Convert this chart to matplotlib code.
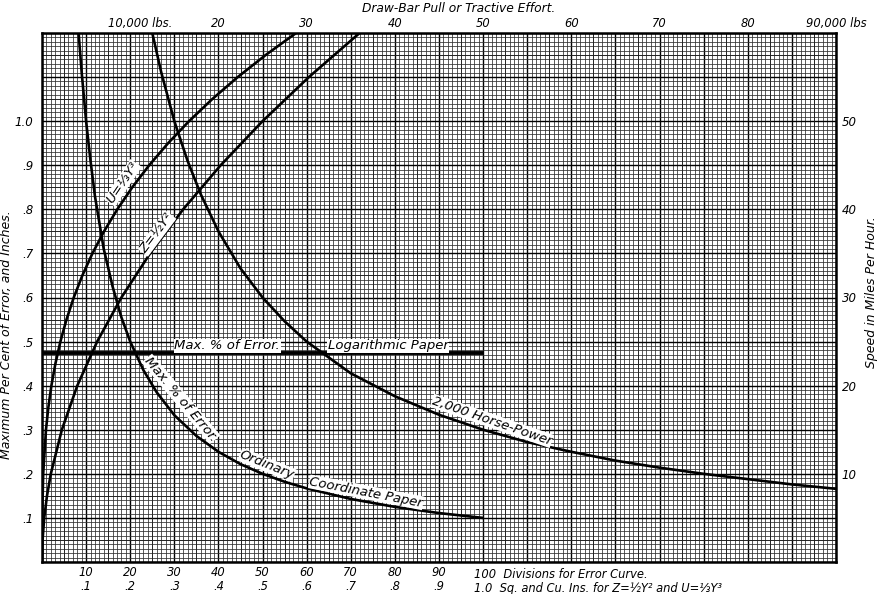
import matplotlib
matplotlib.use("Agg")
import matplotlib.pyplot as plt
from matplotlib.ticker import MultipleLocator, FixedLocator
import matplotlib.transforms as mtransforms

# ---- data -------------------------------------------------------------
# Max. per cent of error on ordinary coordinate paper vs. number of divisions
err_div = [8.3, 9, 10, 11, 12, 13, 14, 16, 18, 20, 23, 26, 30, 35, 40,
           45, 50, 55, 60, 70, 80, 90, 100]
err_pct = [1.20, 1.11, 1.00, 0.91, 0.83, 0.77, 0.71, 0.625, 0.555, 0.50,
           0.435, 0.385, 0.333, 0.286, 0.25, 0.222, 0.20, 0.182, 0.167,
           0.143, 0.125, 0.111, 0.10]

# Max. per cent of error on logarithmic paper
log_div = [0, 100]
log_pct = [0.475, 0.475]

# Z = 1/2 Y^2  (Z in sq. ins., Y in inches)
z_y = [0.0, 0.05, 0.1, 0.15, 0.2, 0.3, 0.4, 0.5, 0.6, 0.7, 0.8, 0.9,
       1.0, 1.1, 1.2]
z_sq = [0.0, 0.00125, 0.005, 0.0113, 0.02, 0.045, 0.08, 0.125, 0.18,
        0.245, 0.32, 0.405, 0.50, 0.605, 0.72]

# U = 1/3 Y^3  (U in cu. ins., Y in inches)
u_y = [0.0, 0.1, 0.2, 0.3, 0.35, 0.4, 0.45, 0.5, 0.55, 0.6, 0.65, 0.7,
       0.75, 0.8, 0.85, 0.9, 0.95, 1.0, 1.05, 1.1, 1.15, 1.2]
u_cu = [0.0, 0.0003, 0.0027, 0.009, 0.0143, 0.0213, 0.0304, 0.0417,
        0.0555, 0.072, 0.0915, 0.1143, 0.1406, 0.1707, 0.2047, 0.243,
        0.2858, 0.3333, 0.3859, 0.4437, 0.507, 0.576]

# 2,000 horse-power: speed (m.p.h.) vs. draw-bar pull (thousand lbs.)
hp_pull = [12.5, 13.5, 15, 16.5, 18, 20, 22.5, 25, 27.5, 30, 35, 40, 45,
           50, 55, 60, 65, 70, 75, 80, 85, 90]
hp_speed = [60.0, 55.6, 50.0, 45.5, 41.7, 37.5, 33.3, 30.0, 27.3, 25.0,
            21.4, 18.8, 16.7, 15.0, 13.6, 12.5, 11.5, 10.7, 10.0, 9.4,
            8.8, 8.3]

# axis tick labels
bottom_ticks = [10, 20, 30, 40, 50, 60, 70, 80, 90]
bottom_labels = ["10\n.1", "20\n.2", "30\n.3", "40\n.4", "50\n.5",
                 "60\n.6", "70\n.7", "80\n.8", "90\n.9"]
left_ticks = [0.1, 0.2, 0.3, 0.4, 0.5, 0.6, 0.7, 0.8, 0.9, 1.0]
left_labels = [".1", ".2", ".3", ".4", ".5", ".6", ".7", ".8", ".9", "1.0"]
top_ticks = [10, 20, 30, 40, 50, 60, 70, 80, 90]
top_labels = ["10,000 lbs.", "20", "30", "40", "50", "60", "70", "80",
              "90,000 lbs"]
right_ticks = [10, 20, 30, 40, 50]
right_labels = ["10", "20", "30", "40", "50"]

# ---- figure -----------------------------------------------------------
FONT = dict(family="DejaVu Sans", style="italic")
W, H = 881, 594
fig = plt.figure(figsize=(W / 100, H / 100), dpi=100)
rect = [42 / W, 32 / H, 794 / W, 529 / H]

ax = fig.add_axes(rect)
ax.set_xlim(0, 180)
ax.set_ylim(0, 1.2)

# graph-paper ruling
ax.xaxis.set_minor_locator(MultipleLocator(1))
ax.yaxis.set_minor_locator(MultipleLocator(0.01))
ax.grid(which="minor", color="#2e2e2e", lw=0.55)
ax.grid(which="major", color="black", lw=1.0)
for v in range(5, 180, 10):
    ax.axvline(v, color="#1e1e1e", lw=0.6, zorder=0.6)
for k in range(12):
    ax.axhline(k * 0.1 + 0.05, color="#1e1e1e", lw=0.6, zorder=0.6)
ax.set_axisbelow(True)
ax.tick_params(which="both", length=0)

# full ruling on every tenth line, labels only on some of them
ax.xaxis.set_major_locator(FixedLocator(list(range(0, 181, 10))))
ax.set_xticklabels([""] + bottom_labels + [""] * 9, fontsize=8.3,
                   linespacing=1.05, **FONT)
ax.yaxis.set_major_locator(FixedLocator([k / 10 for k in range(13)]))
ax.set_yticklabels([""] + left_labels + ["", ""], fontsize=8.5, **FONT)
ax.tick_params(axis="x", pad=3)
ax.tick_params(axis="y", pad=6)

for s in ax.spines.values():
    s.set_linewidth(1.8)
    s.set_color("black")

ax.set_ylabel("Maximum Per Cent of Error, and Inches.", fontsize=9,
              **FONT)
ax.yaxis.set_label_coords(-0.036, 0.43)

# curves in division / per-cent units
ax.plot(err_div, err_pct, color="black", lw=1.9, zorder=4,
        solid_capstyle="butt")
ax.plot(log_div, log_pct, color="black", lw=2.8, zorder=4,
        solid_capstyle="butt")
ax.plot([100 * v for v in z_sq], z_y, color="black", lw=1.9, zorder=4)
ax.plot([100 * v for v in u_cu], u_y, color="black", lw=1.9, zorder=4)

# pull / speed scale on the same plotting area
ax2 = fig.add_axes(rect, frameon=False)
ax2.set_xlim(0, 90)
ax2.set_ylim(0, 60)
ax2.patch.set_visible(False)
ax2.plot(hp_pull, hp_speed, color="black", lw=1.9, zorder=4)
ax2.xaxis.tick_top()
ax2.yaxis.tick_right()
ax2.set_xticks(top_ticks)
ax2.set_xticklabels(top_labels, fontsize=8.3, **FONT)
ax2.set_yticks(right_ticks)
ax2.set_yticklabels(right_labels, fontsize=8.5, **FONT)
ax2.tick_params(which="both", length=0)
ax2.tick_params(axis="x", pad=2)
ax2.tick_params(axis="y", pad=4)
first = ax2.get_xticklabels()[0]
first.set_transform(first.get_transform() +
                    mtransforms.ScaledTranslation(10 / 100, 0,
                                                  fig.dpi_scale_trans))
ax2.yaxis.set_label_position("right")
ax2.set_ylabel("Speed in Miles Per Hour.", fontsize=9, rotation=90,
               **FONT)
ax2.yaxis.set_label_coords(1.036, 0.51)

fig.text(459 / W, 1 - 8 / H, "Draw-Bar Pull or Tractive Effort.",
         ha="center", va="center", fontsize=8.8, **FONT)

# caption at the end of the bottom scale
cap = mtransforms.offset_copy(ax.get_xaxis_transform(), fig=fig,
                              x=-9, y=0, units="dots")
ax.text(100, -0.012, "100  Divisions for Error Curve.\n"
        "1.0  Sq. and Cu. Ins. for Z=½Y² and U=⅓Y³",
        transform=cap, ha="left", va="top", fontsize=8.3, linespacing=1.05,
        **FONT)

# curve labels
box = dict(facecolor="white", edgecolor="none", pad=0.3)
lab = dict(fontsize=9.5, color="black", ha="center", va="center",
           bbox=box, zorder=5, **FONT)
ax.text(18.3, 0.86, "U=⅓Y³", rotation=56, **lab)
ax.text(26.0, 0.745, "Z=½Y²", rotation=53, **lab)
ax.text(42.0, 0.49, "Max. % of Error.", rotation=0, **lab)
ax.text(78.5, 0.49, "Logarithmic Paper", rotation=0, **lab)
ax.text(31.5, 0.37, "Max. % of Error.", rotation=-50, **lab)
ax.text(51.0, 0.22, "Ordinary", rotation=-22, **lab)
ax.text(73.5, 0.158, "Coordinate Paper", rotation=-11, **lab)
ax2.text(51.0, 16.0, "2,000 Horse-Power", rotation=-19, **lab)

fig.savefig("out.png", dpi=100, facecolor="white")
